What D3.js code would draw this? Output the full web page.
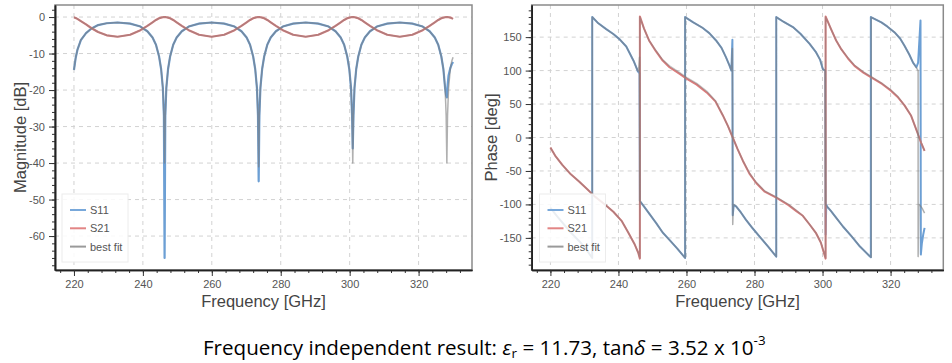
<!DOCTYPE html>
<html>
<head>
<meta charset="utf-8">
<script src="https://cdn.jsdelivr.net/npm/d3@7"></script>
<style>
body{margin:0;background:#fff;}
svg{display:block;}
</style>
</head>
<body>
<svg id="chart" width="952" height="363"></svg>
<script>
// ---- data ----
// magnitude plot, shared frequency grid [GHz]
var freqMag = [220,220.5,221,222,223.5,225,227,229.5,232.65,
  236.3,239.3,241.3,242.8,243.8,244.7,245.3,245.8,246.1,246.3,246.5,246.8,247.3,247.9,248.8,249.8,251.3,253.3,256.3,259.95,
  263.6,266.6,268.6,270.1,271.1,272.0,272.6,273.1,273.4,273.6,273.8,274.1,274.6,275.2,276.1,277.1,278.6,280.6,283.6,287.25,
  290.9,293.9,295.9,297.4,298.4,299.3,299.9,300.4,300.7,300.9,301.1,301.4,301.9,302.5,303.4,304.4,305.9,307.9,310.9,314.55,
  318.2,321.2,323.2,324.7,325.7,326.6,327.2,327.7,328.0,328.2,328.4,328.7,329.2,329.6,330];

var s11Mag = [-14.5,-11.2,-9.0,-6.3,-4.4,-3.2,-2.2,-1.7,-1.5,
  -1.8,-2.6,-3.9,-5.6,-7.6,-10.8,-14.3,-19.5,-27,-66,-27,-19.5,-14.3,-10.8,-7.6,-5.6,-3.9,-2.6,-1.8,-1.5,
  -1.8,-2.6,-3.9,-5.6,-7.6,-10.8,-14.3,-19.5,-27,-45,-27,-19.5,-14.3,-10.8,-7.6,-5.6,-3.9,-2.6,-1.8,-1.5,
  -1.8,-2.6,-3.9,-5.6,-7.6,-10.8,-14.3,-19.5,-27,-36,-27,-19.5,-14.3,-10.8,-7.6,-5.6,-3.9,-2.6,-1.8,-1.5,
  -1.8,-2.6,-3.9,-5.6,-7.6,-10.8,-14.3,-19.5,-21.5,-22,-19,-16,-14,-13,-12.3];

var s21Mag = [-0.1,-0.25,-0.5,-1.1,-2.0,-3.0,-4.1,-5.0,-5.4,
  -4.85,-3.6,-2.4,-1.45,-0.8,-0.35,-0.15,-0.05,0,0,0,-0.05,-0.15,-0.35,-0.8,-1.45,-2.4,-3.6,-4.85,-5.4,
  -4.85,-3.6,-2.4,-1.45,-0.8,-0.35,-0.15,-0.05,0,0,0,-0.05,-0.15,-0.35,-0.8,-1.45,-2.4,-3.6,-4.85,-5.4,
  -4.85,-3.6,-2.4,-1.45,-0.8,-0.35,-0.15,-0.05,0,0,0,-0.05,-0.15,-0.35,-0.8,-1.45,-2.4,-3.6,-4.85,-5.4,
  -4.85,-3.6,-2.4,-1.45,-0.8,-0.35,-0.15,-0.05,0,0,0,-0.05,-0.15,-0.3,-0.5];

var fitS11Mag = [-14.5,-11.2,-9.0,-6.3,-4.4,-3.2,-2.2,-1.7,-1.5,
  -1.8,-2.6,-3.9,-5.6,-7.6,-10.8,-14.3,-19.5,-27,-40,-27,-19.5,-14.3,-10.8,-7.6,-5.6,-3.9,-2.6,-1.8,-1.5,
  -1.8,-2.6,-3.9,-5.6,-7.6,-10.8,-14.3,-19.5,-27,-41,-27,-19.5,-14.3,-10.8,-7.6,-5.6,-3.9,-2.6,-1.8,-1.5,
  -1.8,-2.6,-3.9,-5.6,-7.6,-10.8,-14.3,-19.5,-27,-40,-27,-19.5,-14.3,-10.8,-7.6,-5.6,-3.9,-2.6,-1.8,-1.5,
  -1.8,-2.6,-3.9,-5.6,-7.6,-10.8,-14.3,-19.5,-27,-40,-27,-19.5,-14.3,-12.2,-11.0];

var fitS21Mag = [-0.1,-0.25,-0.5,-1.1,-2.0,-3.0,-4.1,-5.0,-5.4,
  -4.85,-3.6,-2.4,-1.45,-0.8,-0.35,-0.15,-0.05,0,0,0,-0.05,-0.15,-0.35,-0.8,-1.45,-2.4,-3.6,-4.85,-5.4,
  -4.85,-3.6,-2.4,-1.45,-0.8,-0.35,-0.15,-0.05,0,0,0,-0.05,-0.15,-0.35,-0.8,-1.45,-2.4,-3.6,-4.85,-5.4,
  -4.85,-3.6,-2.4,-1.45,-0.8,-0.35,-0.15,-0.05,0,0,0,-0.05,-0.15,-0.35,-0.8,-1.45,-2.4,-3.6,-4.85,-5.4,
  -4.85,-3.6,-2.4,-1.45,-0.8,-0.35,-0.15,-0.05,0,0,0,-0.05,-0.15,-0.3,-0.5];

// phase plot, [frequency GHz, phase deg]
var s11Phase = [[220,-105],[222,-118],[224,-130],[226,-142],[228.5,-155],[230.5,-167],[232.3,-180],
  [232.3,180],[234,171],[236.4,162],[238.4,155],[240.3,147],[242.3,136],[243.2,127],[244.5,114],[245.7,99],[246.2,96],
  [246.3,-95],[247.5,-103],[249.1,-114],[251.1,-128],[253,-142],[255,-153],[257.3,-166],[259.6,-180],
  [259.6,180],[262,172],[264.7,164],[266.7,156],[268.7,145],[270.3,134],[271.6,120],[272.6,108],[273.2,100],[273.5,146],
  [273.6,-116],[273.9,-101],[274.6,-103],[276,-112],[277.5,-123],[279.5,-136],[281.5,-148],[284,-163],[286.4,-178],
  [286.4,180],[288.5,173],[291.3,165],[293.5,155],[296.2,140],[298,128],[299.3,116],[300.1,102],[300.8,100],
  [300.9,-145],[301.1,-100],[301.3,-103],[302.5,-110],[303.7,-118],[306,-133],[308.6,-148],[311,-163],[313.8,-177],[314.2,-179],
  [314.2,180],[317.3,172],[319,166],[321.2,157],[322.8,148],[324.1,137],[325.5,124],[326.6,112],[327.6,105],[328.1,112],[328.8,175],
  [328.9,-175],[329.2,-158],[329.6,-145],[330,-135]];

var fitS11Phase = [[220,-105],[222,-118],[224,-130],[226,-142],[228.5,-155],[230.5,-167],[232.3,-180],
  [232.3,180],[234,171],[236.4,162],[238.4,155],[240.3,147],[242.3,136],[243.2,127],[244.5,114],[245.7,99],[246.0,105],[246.2,120],
  [246.3,-95],[247.5,-103],[249.1,-114],[251.1,-128],[253,-142],[255,-153],[257.3,-166],[259.6,-180],
  [259.6,180],[262,172],[264.7,164],[266.7,156],[268.7,145],[270.3,134],[271.6,120],[272.6,108],[273.2,100],[273.5,133],
  [273.6,-130],[273.8,-100],[274.6,-103],[276,-112],[277.5,-123],[279.5,-136],[281.5,-148],[284,-163],[286.4,-178],
  [286.4,180],[288.5,173],[291.3,165],[293.5,155],[296.2,140],[298,128],[299.3,116],[300.1,102],[300.8,100],
  [300.9,-100],[301.3,-103],[302.5,-110],[303.7,-118],[306,-133],[308.6,-148],[311,-163],[313.8,-177],[314.3,-179],
  [314.3,180],[317.3,172],[319,166],[321.2,157],[322.8,148],[324.1,137],[325.5,124],[326.6,112],[327.6,104],[328.1,100],
  [328.1,-178],[328.3,-100],[328.6,-101],[329.3,-106],[330,-113]];

var s21Phase = [[220,-15],[221.5,-28],[223.5,-41],[226,-55],[228.5,-66],[231,-78],[233,-88],[236,-100],[238.5,-111],[241,-125],[243,-143],[244.8,-160],[245.8,-172],[246.3,-181],
  [246.3,181],[247.5,163],[249,145],[251,129],[253,115],[255,105],[258,95],[260,88],[263,79],[266,67],[268.5,54],[270.7,33],[272.2,17],[273.6,0],
  [275,-17],[276.6,-35],[278.5,-54],[280.5,-68],[283,-81],[286.4,-90],[290,-101],[292.3,-110],[294.2,-117],[296.2,-130],[298.1,-143],[299.5,-157],[300.9,-181],
  [300.9,181],[302.5,162],[304,145],[305.5,132],[307.5,118],[309.4,107],[312,97],[314.3,90],[317.5,80],[320.1,70],[322,61],[324.1,48],[326,33],[327.1,18],[328.2,3],[329,-8],[330,-20]];

var fitS21Phase = [[220,-15],[221.5,-28],[223.5,-41],[226,-55],[228.5,-66],[231,-78],[233,-88],[236,-100],[238.5,-111],[241,-125],[243,-143],[244.8,-160],[245.8,-172],[246.3,-180],
  [246.3,180],[247.5,163],[249,145],[251,130],[253,116],[255,107],[258,97],[260,90],[263,81],[266,69],[268.5,55],[270.7,33],[272.2,17],[273.6,0],
  [275,-17],[276.6,-35],[278.5,-53],[280.5,-67],[283,-80],[286.4,-89],[290,-100],[292.3,-109],[294.2,-117],[296.2,-130],[298.1,-143],[299.5,-157],[300.9,-180],
  [300.9,180],[302.5,162],[304,145],[305.5,132],[307.5,119],[309.4,108],[312,98],[314.3,91],[317.5,81],[320.1,71],[322,62],[324.1,48],[326,33],[327.1,18],[328.2,3],[329,-8],[330,-20]];

// axis ticks
var xTicks = [220,240,260,280,300,320];
var magTicks = [0,-10,-20,-30,-40,-50,-60];
var phaseTicks = [150,100,50,0,-50,-100,-150];
var legendNames = ["S11","S21","best fit"];

// ---- drawing ----
var svg = d3.select("#chart");
var blue = "#6c9fd4", red = "#dc7c7c", grey = "#7c7c7c";
var legendColors = ["#78a8da","#e28585","#9a9a9a"];
var tickFont = "Liberation Sans, Arial, sans-serif";

var makePanel = function(p)
{
    var g = svg.append("g");
    var x = d3.scaleLinear().domain([214.5, 335.5]).range([p.left, p.right]);
    var y = d3.scaleLinear().domain(p.yDomain).range([p.bottom, p.top]);

    //grid
    g.append("g").selectAll("line")
        .data(xTicks).enter().append("line")
        .attr("x1", function(d){ return x(d); })
        .attr("x2", function(d){ return x(d); })
        .attr("y1", p.top).attr("y2", p.bottom);
    g.append("g").selectAll("line")
        .data(p.yTicks).enter().append("line")
        .attr("y1", function(d){ return y(d); })
        .attr("y2", function(d){ return y(d); })
        .attr("x1", p.left).attr("x2", p.right);
    g.selectAll("g line")
        .attr("stroke", "#d2d2d2")
        .attr("stroke-width", 1)
        .attr("stroke-dasharray", "4,4");

    //lines
    var line = d3.line()
        .x(function(d){ return x(d[0]); })
        .y(function(d){ return y(d[1]); });
    p.series.forEach(function(s)
    {
        g.append("path")
            .datum(s.points)
            .attr("d", line)
            .attr("fill", "none")
            .attr("stroke", s.color)
            .attr("stroke-width", s.width)
            .attr("stroke-opacity", s.opacity)
            .attr("stroke-linejoin", "round");
    });

    //frame
    g.append("rect")
        .attr("x", p.left).attr("y", p.top)
        .attr("width", p.right - p.left).attr("height", p.bottom - p.top)
        .attr("fill", "none").attr("stroke", "#8a8a8a").attr("stroke-width", 1.5);

    //axes
    var xAxis = d3.axisBottom(x).tickValues(xTicks).tickSize(6).tickSizeOuter(0)
        .tickPadding(4).tickFormat(function(d){ return String(d); });
    var xMinor = d3.axisBottom(x).tickValues(d3.range(216, 336, 4)).tickSize(3)
        .tickSizeOuter(0).tickFormat("");
    var yAxis = d3.axisLeft(y).tickValues(p.yTicks).tickSize(6).tickSizeOuter(0)
        .tickPadding(4).tickFormat(function(d){ return String(d); });
    var yMinor = d3.axisLeft(y).tickValues(p.yMinor).tickSize(3)
        .tickSizeOuter(0).tickFormat("");

    var axes = [
        g.append("g").attr("transform", "translate(0," + p.bottom + ")").call(xMinor),
        g.append("g").attr("transform", "translate(0," + p.bottom + ")").call(xAxis),
        g.append("g").attr("transform", "translate(" + p.left + ",0)").call(yMinor),
        g.append("g").attr("transform", "translate(" + p.left + ",0)").call(yAxis)
    ];
    axes.forEach(function(a)
    {
        a.select(".domain").attr("stroke", "#222").attr("stroke-width", 1.6);
        a.selectAll(".tick line").attr("stroke", "#333").attr("stroke-width", 1);
        a.selectAll("text").attr("fill", "#555").attr("font-size", 11)
            .attr("font-family", tickFont);
    });

    //axis labels
    g.append("text")
        .attr("x", (p.left + p.right) / 2).attr("y", 307)
        .attr("text-anchor", "middle")
        .attr("font-family", tickFont).attr("font-size", 16.5).attr("fill", "#444")
        .text("Frequency [GHz]");
    g.append("text")
        .attr("transform", "translate(" + p.labelX + ",137.5) rotate(-90)")
        .attr("text-anchor", "middle")
        .attr("font-family", tickFont).attr("font-size", 16.5).attr("fill", "#444")
        .text(p.label);

    //legend
    var lg = g.append("g").attr("transform", "translate(" + p.legendX + ",194)");
    lg.append("rect")
        .attr("width", 66).attr("height", 68)
        .attr("fill", "#fff").attr("fill-opacity", 0.85)
        .attr("stroke", "#ececec").attr("stroke-width", 1);
    var rows = lg.selectAll("g.row")
        .data(legendNames).enter().append("g")
        .attr("transform", function(d, i){ return "translate(0," + (16 + i * 18.3) + ")"; });
    rows.append("line")
        .attr("x1", 8).attr("x2", 24)
        .attr("stroke", function(d, i){ return legendColors[i]; })
        .attr("stroke-width", 2);
    rows.append("text")
        .attr("x", 28).attr("y", 4)
        .attr("font-family", tickFont).attr("font-size", 11).attr("fill", "#555")
        .text(function(d){ return d; });
};

makePanel({
    left: 55, right: 472, top: 5, bottom: 270,
    yDomain: [-69.3, 3.3], yTicks: magTicks, yMinor: d3.range(-68, 3, 2),
    label: "Magnitude [dB]", labelX: 26, legendX: 62,
    series: [
        {points: d3.zip(freqMag, s11Mag), color: blue, width: 2.2, opacity: 1},
        {points: d3.zip(freqMag, s21Mag), color: red, width: 2.2, opacity: 1},
        {points: d3.zip(freqMag, fitS11Mag), color: grey, width: 1.5, opacity: 0.6},
        {points: d3.zip(freqMag, fitS21Mag), color: grey, width: 1.5, opacity: 0.45}
    ]
});

makePanel({
    left: 531.7, right: 943.3, top: 5, bottom: 270,
    yDomain: [-198, 198], yTicks: phaseTicks, yMinor: d3.range(-190, 191, 10),
    label: "Phase [deg]", labelX: 497, legendX: 539.5,
    series: [
        {points: s11Phase, color: blue, width: 2, opacity: 1},
        {points: s21Phase, color: red, width: 2, opacity: 1},
        {points: fitS11Phase, color: grey, width: 1.5, opacity: 0.6},
        {points: fitS21Phase, color: grey, width: 1.5, opacity: 0.45}
    ]
});

//caption
var cap = svg.append("text")
    .attr("x", 203).attr("y", 355)
    .attr("font-family", "Open Sans, Noto Sans, sans-serif")
    .attr("font-size", 20).attr("fill", "#000");
cap.append("tspan").text("Frequency independent result: ");
cap.append("tspan").attr("font-style", "italic").text("\u03b5");
cap.append("tspan").attr("font-size", "0.65em").attr("baseline-shift", "-25%").text("r");
cap.append("tspan").text(" = 11.73, tan");
cap.append("tspan").attr("font-style", "italic").text("\u03b4");
cap.append("tspan").text(" = 3.52 x 10");
cap.append("tspan").attr("font-size", "0.65em").attr("baseline-shift", "75%").text("-3");
var capLen = cap.node().getComputedTextLength();
cap.attr("font-size", 20 * 563 / capLen);
</script>
</body>
</html>
